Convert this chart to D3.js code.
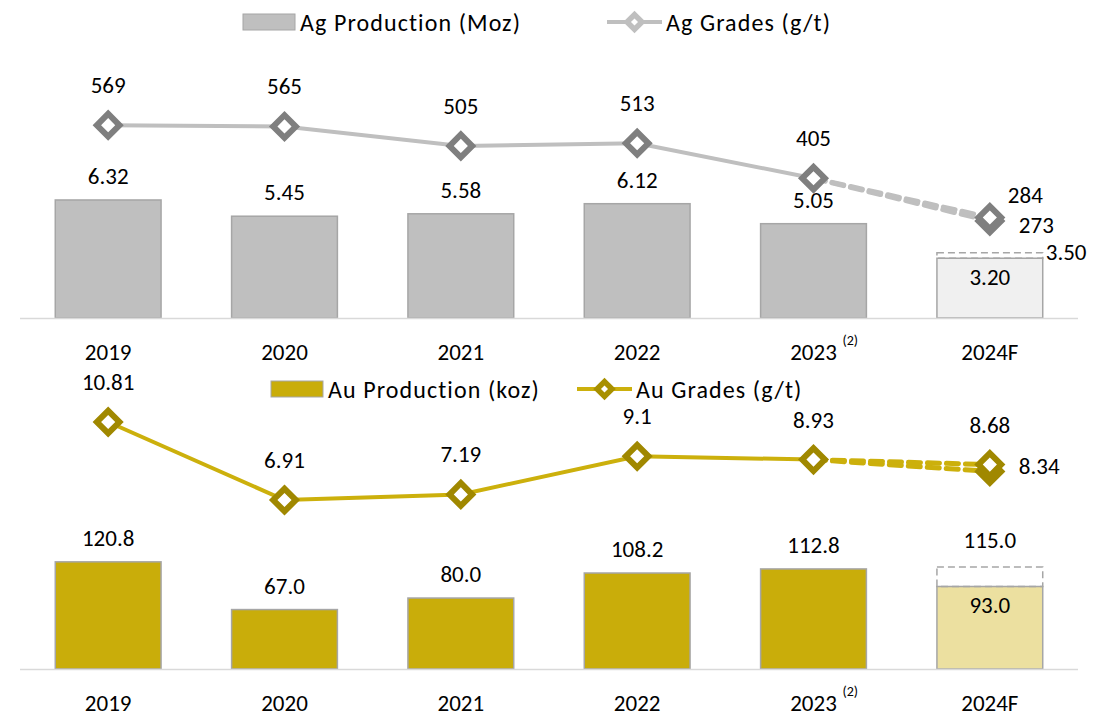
<!DOCTYPE html>
<html>
<head>
<meta charset="utf-8">
<script src="https://cdn.jsdelivr.net/npm/d3@7"></script>
<style>
  body { margin: 0; background: #fff; }
  svg { font-family: Carlito, Lato, sans-serif; }
</style>
</head>
<body>
<svg id="chart" width="1119" height="718"></svg>
<script>
var years = ['2019', '2020', '2021', '2022', '2023', '2024F'];

var agProduction = [6.32, 5.45, 5.58, 6.12, 5.05, 3.20];
var agProductionHigh = 3.50;
var agGrades = [569, 565, 505, 513, 405, 284];
var agGradeLow = 273;

var auProduction = [120.8, 67.0, 80.0, 108.2, 112.8, 93.0];
var auProductionHigh = 115.0;
var auGrades = [10.81, 6.91, 7.19, 9.1, 8.93, 8.68];
var auGradeLow = 8.34;

var svg = d3.select('#chart');

var x = d3.scaleBand()
    .domain(years)
    .range([20, 1078])
    .paddingInner(0.4)
    .paddingOuter(0.2);

function cx(d) { return x(d) + x.bandwidth() / 2; }

function fmt(digits) { return function(v) { return v.toFixed(digits); }; }

function panel(o) {

  var g = svg.append('g');
  var last = years.length - 1;

  // bars
  g.selectAll('rect.bar')
    .data(o.production)
    .enter().append('rect')
      .attr('class', 'bar')
      .attr('x', function(d, i) { return x(years[i]); })
      .attr('y', function(d) { return o.yBar(d); })
      .attr('width', x.bandwidth())
      .attr('height', function(d) { return o.yBar(0) - o.yBar(d); })
      .attr('fill', function(d, i) { return i === last ? o.barLight : o.bar; })
      .attr('stroke', '#a6a6a6')
      .attr('stroke-width', 1.5);

  // guidance high box
  g.append('rect')
      .attr('x', x(years[last]))
      .attr('y', o.yBar(o.productionHigh))
      .attr('width', x.bandwidth())
      .attr('height', o.yBar(o.production[last]) - o.yBar(o.productionHigh))
      .attr('fill', 'none')
      .attr('stroke', '#a6a6a6')
      .attr('stroke-width', 1.5)
      .attr('stroke-dasharray', '7,4');

  // baseline
  g.append('line')
      .attr('x1', x.range()[0])
      .attr('x2', x.range()[1])
      .attr('y1', o.yBar(0) + 0.5)
      .attr('y2', o.yBar(0) + 0.5)
      .attr('stroke', '#d9d9d9')
      .attr('stroke-width', 1.5);

  // dashed forecast segments
  [o.gradeLow, o.grades[last]].forEach(function(v) {
    g.append('line')
        .attr('x1', cx(years[last - 1]))
        .attr('y1', o.yLine(o.grades[last - 1]))
        .attr('x2', cx(years[last]))
        .attr('y2', o.yLine(v))
        .attr('stroke', o.line)
        .attr('stroke-width', 5)
        .attr('stroke-linecap', 'round')
        .attr('stroke-dasharray', '12,7');
  });

  // solid grade line
  var line = d3.line()
      .x(function(d, i) { return cx(years[i]); })
      .y(function(d) { return o.yLine(d); });

  g.append('path')
      .datum(o.grades.slice(0, last))
      .attr('d', line)
      .attr('fill', 'none')
      .attr('stroke', o.line)
      .attr('stroke-width', 4);

  // markers
  var pts = [{ i: last, v: o.gradeLow }].concat(o.grades.map(function(v, i) { return { i: i, v: v }; }));

  g.selectAll('rect.mk')
    .data(pts)
    .enter().append('rect')
      .attr('class', 'mk')
      .attr('x', -8)
      .attr('y', -8)
      .attr('width', 16)
      .attr('height', 16)
      .attr('fill', '#fff')
      .attr('stroke', o.marker)
      .attr('stroke-width', 6)
      .attr('transform', function(d) {
        return 'translate(' + cx(years[d.i]) + ',' + o.yLine(d.v) + ') rotate(45)';
      });

  var text = g.append('g')
      .attr('font-size', 23)
      .attr('fill', '#000')
      .attr('text-anchor', 'middle');

  // bar labels
  text.selectAll('text.bl')
    .data(o.production)
    .enter().append('text')
      .attr('x', function(d, i) { return cx(years[i]); })
      .attr('y', function(d, i) { return i === last ? o.yBar(d) + 27 : o.yBar(d) - 16; })
      .text(o.barFmt);

  var hi = text.append('text')
      .text(o.barFmt(o.productionHigh));
  if (o.highRight) {
    hi.attr('x', x(years[last]) + x.bandwidth() + 3)
      .attr('y', o.yBar(o.productionHigh) + 7)
      .attr('text-anchor', 'start');
  } else {
    hi.attr('x', cx(years[last]))
      .attr('y', o.yBar(o.productionHigh) - 19);
  }

  // grade labels
  text.selectAll('text.gl')
    .data(o.grades)
    .enter().append('text')
      .attr('x', function(d, i) { return (i === last && o.lastRight) ? cx(years[i]) + 18 : cx(years[i]); })
      .attr('y', function(d, i) { return (i === last && o.lastRight) ? o.yLine(d) - 14 : o.yLine(d) - 32; })
      .attr('text-anchor', function(d, i) { return (i === last && o.lastRight) ? 'start' : 'middle'; })
      .text(o.gradeFmt);

  text.append('text')
      .attr('x', cx(years[last]) + 29)
      .attr('y', o.yLine(o.gradeLow) + o.lowDy)
      .attr('text-anchor', 'start')
      .text(o.gradeFmt(o.gradeLow));

  // year labels
  text.selectAll('text.yr')
    .data(years)
    .enter().append('text')
      .attr('x', function(d) { return cx(d); })
      .attr('y', o.yBar(0) + 42)
      .text(function(d) { return d; });

  text.append('text')
      .attr('x', cx('2023') + 29)
      .attr('y', o.yBar(0) + 27)
      .attr('text-anchor', 'start')
      .attr('font-size', 14)
      .text('(2)');

  // legend
  var lg = g.append('g')
      .attr('font-size', 24)
      .attr('letter-spacing', 1.1);

  lg.append('rect')
      .attr('x', o.legendX)
      .attr('y', o.legendY - 8)
      .attr('width', 52)
      .attr('height', 16)
      .attr('fill', o.bar)
      .attr('stroke', '#a6a6a6')
      .attr('stroke-width', 1);

  lg.append('text')
      .attr('x', o.legendX + 57)
      .attr('y', o.legendY + 9)
      .text(o.barName);

  var lx = o.legendX + o.legendGap;

  lg.append('line')
      .attr('x1', lx)
      .attr('x2', lx + 55)
      .attr('y1', o.legendY)
      .attr('y2', o.legendY)
      .attr('stroke', o.line)
      .attr('stroke-width', 4);

  lg.append('rect')
      .attr('x', -8)
      .attr('y', -8)
      .attr('width', 16)
      .attr('height', 16)
      .attr('fill', o.legendMarker)
      .attr('transform', 'translate(' + (lx + 27.5) + ',' + o.legendY + ') rotate(45)');

  lg.append('rect')
      .attr('x', -2.5)
      .attr('y', -2.5)
      .attr('width', 5)
      .attr('height', 5)
      .attr('fill', '#fff')
      .attr('transform', 'translate(' + (lx + 27.5) + ',' + o.legendY + ') rotate(45)');

  lg.append('text')
      .attr('x', lx + 59)
      .attr('y', o.legendY + 9)
      .text(o.lineName);
}

panel({
  production: agProduction,
  productionHigh: agProductionHigh,
  grades: agGrades,
  gradeLow: agGradeLow,
  yBar: d3.scaleLinear().domain([0, 8]).range([318, 168.6]),
  yLine: d3.scaleLinear().domain([0, 600]).range([309.5, 115.1]),
  bar: '#bfbfbf',
  barLight: '#f0f0f0',
  line: '#bfbfbf',
  marker: '#7f7f7f',
  legendMarker: '#bfbfbf',
  barFmt: fmt(2),
  gradeFmt: function(v) { return String(v); },
  highRight: true,
  lastRight: true,
  lowDy: 12,
  legendX: 243,
  legendY: 22,
  legendGap: 364,
  barName: 'Ag Production (Moz)',
  lineName: 'Ag Grades (g/t)'
});

panel({
  production: auProduction,
  productionHigh: auProductionHigh,
  grades: auGrades,
  gradeLow: auGradeLow,
  yBar: d3.scaleLinear().domain([0, 140]).range([669, 544.8]),
  yLine: d3.scaleLinear().domain([0, 12]).range([638.2, 398.2]),
  bar: '#c9ad0a',
  barLight: '#ece0a0',
  line: '#ccb00c',
  marker: '#a08800',
  legendMarker: '#a89000',
  barFmt: fmt(1),
  gradeFmt: function(v) { return String(v); },
  highRight: false,
  lastRight: false,
  lowDy: 3,
  legendX: 271,
  legendY: 389,
  legendGap: 306,
  barName: 'Au Production (koz)',
  lineName: 'Au Grades (g/t)'
});
</script>
</body>
</html>
